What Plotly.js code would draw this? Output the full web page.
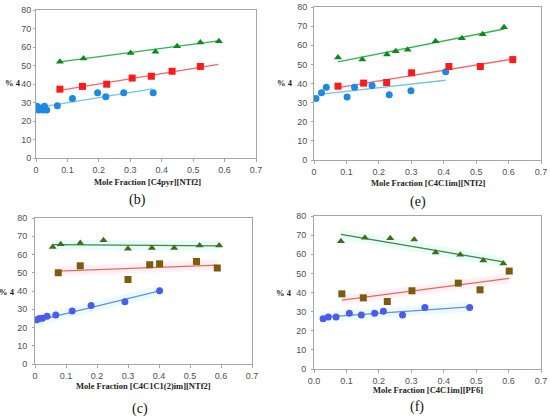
<!DOCTYPE html>
<html>
<head>
<meta charset="utf-8">
<script src="https://cdn.plot.ly/plotly-3.0.1.min.js"></script>
<style>
  html, body { margin: 0; padding: 0; background: #fff; }
  #graph { width: 550px; height: 417px; }
</style>
</head>
<body>
<div id="graph"></div>
<script>
// panel (b) [C4pyr][NTf2]
let bCircX = [0.003, 0.008, 0.015, 0.022, 0.027, 0.034, 0.068, 0.116, 0.196, 0.222, 0.279, 0.373];
let bCircY = [28, 26, 27, 26, 28, 26, 28.2, 32.2, 35.3, 33.1, 35.3, 35.3];
let bSqX = [0.076, 0.148, 0.225, 0.306, 0.367, 0.433, 0.523];
let bSqY = [37.2, 38.7, 39.9, 43.2, 44.2, 46.9, 49.5];
let bTriX = [0.076, 0.151, 0.301, 0.38, 0.449, 0.523, 0.582];
let bTriY = [52.0, 53.8, 56.7, 57.4, 60.4, 62.4, 63.1];
let bFitCircX = [0.005, 0.37], bFitCircY = [27.2, 37.4];
let bFitSqX = [0.075, 0.58], bFitSqY = [36.6, 50.6];
let bFitTriX = [0.075, 0.58], bFitTriY = [52.0, 63.3];

// panel (e) [C4C1im][NTf2]
let eCircX = [0.006, 0.023, 0.038, 0.102, 0.125, 0.179, 0.232, 0.299, 0.406];
let eCircY = [32.2, 35.1, 38.1, 33.0, 38.1, 39.0, 34.1, 36.2, 46.1];
let eSqX = [0.074, 0.153, 0.224, 0.301, 0.416, 0.513, 0.613];
let eSqY = [38.6, 40.2, 40.5, 45.6, 48.9, 48.9, 52.5];
let eTriX = [0.074, 0.149, 0.225, 0.252, 0.289, 0.375, 0.456, 0.52, 0.586];
let eTriY = [53.6, 52.5, 55.1, 56.9, 57.6, 62.1, 63.7, 65.7, 69.4];
let eFitCircX = [0.023, 0.406], eFitCircY = [34.4, 41.7];
let eFitSqX = [0.074, 0.613], eFitSqY = [37.9, 52.8];
let eFitTriX = [0.074, 0.586], eFitTriY = [51.3, 68.5];

// panel (c) [C4C1C1(2)im][NTf2]
let cCircX = [0.006, 0.014, 0.024, 0.039, 0.067, 0.12, 0.181, 0.29, 0.402];
let cCircY = [24.2, 24.9, 25.1, 26.2, 26.9, 29.1, 32.1, 34.1, 40.1];
let cSqX = [0.075, 0.146, 0.3, 0.37, 0.402, 0.521, 0.588];
let cSqY = [50.0, 53.8, 46.3, 54.4, 54.9, 56.2, 52.6];
let cTriX = [0.057, 0.083, 0.146, 0.221, 0.3, 0.377, 0.449, 0.531, 0.594];
let cTriY = [64.1, 65.6, 66.3, 67.8, 63.2, 63.6, 63.6, 65.0, 65.0];
let cFitCircX = [0.003, 0.402], cFitCircY = [23.6, 40.1];
let cFitSqX = [0.075, 0.588], cFitSqY = [50.9, 54.2];
let cFitTriX = [0.057, 0.594], cFitTriY = [65.4, 64.7];

// panel (f) [C4C1im][PF6]
let fCircX = [0.028, 0.044, 0.068, 0.109, 0.146, 0.187, 0.214, 0.273, 0.342, 0.48];
let fCircY = [26.3, 27.2, 27.2, 29.1, 28.2, 29.1, 30.2, 28.2, 32.1, 32.1];
let fSqX = [0.086, 0.152, 0.226, 0.302, 0.445, 0.512, 0.602];
let fSqY = [39.3, 37.2, 35.3, 40.9, 44.9, 41.4, 51.2];
let fTriX = [0.083, 0.157, 0.235, 0.309, 0.375, 0.451, 0.522, 0.584];
let fTriY = [66.8, 68.6, 68.4, 67.7, 60.9, 59.8, 56.7, 55.1];
let fFitCircX = [0.018, 0.48], fFitCircY = [27.0, 32.5];
let fFitSqX = [0.086, 0.602], fFitSqY = [36.0, 47.4];
let fFitTriX = [0.083, 0.584], fFitTriY = [70.4, 56.0];

let xTicks = [0, 0.1, 0.2, 0.3, 0.4, 0.5, 0.6, 0.7];
let yTicks = [0, 10, 20, 30, 40, 50, 60, 70, 80];
let xTitles = ["Mole Fraction [C4pyr][NTf2]", "Mole Fraction [C4C1im][NTf2]",
               "Mole Fraction [C4C1C1(2)im][NTf2]", "Mole Fraction [C4C1im][PF6]"];
let panelLabels = ["(b)", "(e)", "(c)", "(f)"];

function pts(x, y, xa, ya, symbol, color, size) {
  return { x: x, y: y, xaxis: xa, yaxis: ya, type: "scatter", mode: "markers",
    marker: { symbol: symbol, color: color, size: size }, hoverinfo: "skip" };
}
function fit(x, y, xa, ya, color, width) {
  return { x: x, y: y, xaxis: xa, yaxis: ya, type: "scatter", mode: "lines",
    line: { color: color, width: width || 1.3 }, hoverinfo: "skip" };
}

let cyanBand = "rgba(215,250,250,0.55)";
let pinkBand = "rgba(255,228,244,0.6)";

let traces = [
  // (b)
  fit(bFitCircX, bFitCircY, "x", "y", "#72c4e6"),
  fit(bFitSqX, bFitSqY, "x", "y", "#ff6464"),
  fit(bFitTriX, bFitTriY, "x", "y", "#2fb54a"),
  pts(bCircX, bCircY, "x", "y", "circle", "#1e88e5", 7),
  pts(bSqX, bSqY, "x", "y", "square", "#ff1a1a", 7),
  pts(bTriX, bTriY, "x", "y", "triangle-up", "#0a8a1e", 7),
  // (e)
  fit(eFitCircX, eFitCircY, "x2", "y2", "#72c4e6"),
  fit(eFitSqX, eFitSqY, "x2", "y2", "#ff6464"),
  fit(eFitTriX, eFitTriY, "x2", "y2", "#2fb54a"),
  pts(eCircX, eCircY, "x2", "y2", "circle", "#1e88e5", 7),
  pts(eSqX, eSqY, "x2", "y2", "square", "#ff1a1a", 7),
  pts(eTriX, eTriY, "x2", "y2", "triangle-up", "#0a8a1e", 7),
  // (c) faint highlight bands
  fit(cFitCircX, cFitCircY, "x3", "y3", cyanBand, 10),
  fit(cFitSqX, cFitSqY, "x3", "y3", pinkBand, 10),
  fit(cFitTriX, cFitTriY, "x3", "y3", cyanBand, 10),
  fit(cFitCircX, cFitCircY, "x3", "y3", "#6f86ee"),
  fit(cFitSqX, cFitSqY, "x3", "y3", "#e0704e"),
  fit(cFitTriX, cFitTriY, "x3", "y3", "#3f8a35"),
  pts(cCircX, cCircY, "x3", "y3", "circle", "#4a5cf0", 7),
  pts(cSqX, cSqY, "x3", "y3", "square", "#7d5a0c", 7),
  pts(cTriX, cTriY, "x3", "y3", "triangle-up", "#3c6e1c", 7),
  // (f)
  fit(fFitCircX, fFitCircY, "x4", "y4", cyanBand, 10),
  fit(fFitSqX, fFitSqY, "x4", "y4", pinkBand, 10),
  fit(fFitTriX, fFitTriY, "x4", "y4", cyanBand, 10),
  fit(fFitCircX, fFitCircY, "x4", "y4", "#6f86ee"),
  fit(fFitSqX, fFitSqY, "x4", "y4", "#e0704e"),
  fit(fFitTriX, fFitTriY, "x4", "y4", "#3f8a35"),
  pts(fCircX, fCircY, "x4", "y4", "circle", "#4a5cf0", 7),
  pts(fSqX, fSqY, "x4", "y4", "square", "#7d5a0c", 7),
  pts(fTriX, fTriY, "x4", "y4", "triangle-up", "#3c6e1c", 7),
];

let tickFont = { family: "Liberation Sans, Arial, sans-serif", size: 9, color: "#505050" };
let boldFont = { family: "Liberation Serif, serif", size: 8.5, color: "#222", weight: "bold" };

function xAxis(domain, anchor, fmt) {
  return { domain: domain, anchor: anchor, range: [0, 0.7], tickvals: xTicks,
    tickformat: fmt, showgrid: false, zeroline: false, showline: true, mirror: true,
    linecolor: "#a6a6a6", linewidth: 1, ticks: "outside", ticklen: 3, tickcolor: "#a6a6a6",
    tickfont: tickFont, fixedrange: true };
}
function yAxis(domain, anchor, standoff) {
  return { domain: domain, anchor: anchor, range: [0, 80], tickvals: yTicks,
    showgrid: false, zeroline: false, showline: true, mirror: true,
    linecolor: "#a6a6a6", linewidth: 1, ticks: "outside", ticklen: 2, tickcolor: "#a6a6a6",
    ticklabelstandoff: standoff, tickfont: tickFont, fixedrange: true };
}

let titlePos = [[147, 182], [428, 183], [143, 386], [428, 390]];
let labelPos = [[137, 200], [418, 202], [140, 409], [417, 407]];
let yTitlePos = [[22, 83], [294, 83], [16, 292], [293, 293]];

let annotations = [];
for (let i = 0; i < 4; i++) {
  annotations.push({ text: "<b>" + xTitles[i] + "</b>", xref: "paper", yref: "paper",
    x: titlePos[i][0] / 550, y: 1 - titlePos[i][1] / 417, xanchor: "center", yanchor: "middle",
    showarrow: false, font: boldFont });
  annotations.push({ text: "<b>% 4</b>", xref: "paper", yref: "paper",
    x: yTitlePos[i][0] / 550, y: 1 - yTitlePos[i][1] / 417, xanchor: "right", yanchor: "middle",
    showarrow: false, font: boldFont, borderpad: 0 });
  annotations.push({ text: panelLabels[i], xref: "paper", yref: "paper",
    x: labelPos[i][0] / 550, y: 1 - labelPos[i][1] / 417, xanchor: "center", yanchor: "middle",
    showarrow: false, font: { family: "Liberation Serif, serif", size: 14, color: "#111" } });
}

let layout = {
  width: 550, height: 417,
  margin: { l: 0, r: 0, t: 0, b: 0 },
  paper_bgcolor: "#fff", plot_bgcolor: "#fff",
  showlegend: false,
  xaxis: xAxis([36 / 550, 256 / 550], "y", ""),
  yaxis: yAxis([1 - 158 / 417, 1 - 10 / 417], "x", 0),
  xaxis2: xAxis([314 / 550, 541 / 550], "y2", ""),
  yaxis2: yAxis([1 - 160 / 417, 1 - 7 / 417], "x2", 2),
  xaxis3: xAxis([35 / 550, 252 / 550], "y3", ""),
  yaxis3: yAxis([1 - 364 / 417, 1 - 218 / 417], "x3", 3),
  xaxis4: xAxis([314 / 550, 541 / 550], "y4", ".1f"),
  yaxis4: yAxis([1 - 369 / 417, 1 - 216 / 417], "x4", 3),
  annotations: annotations,
};

Plotly.newPlot("graph", traces, layout, { staticPlot: true });
</script>
</body>
</html>
